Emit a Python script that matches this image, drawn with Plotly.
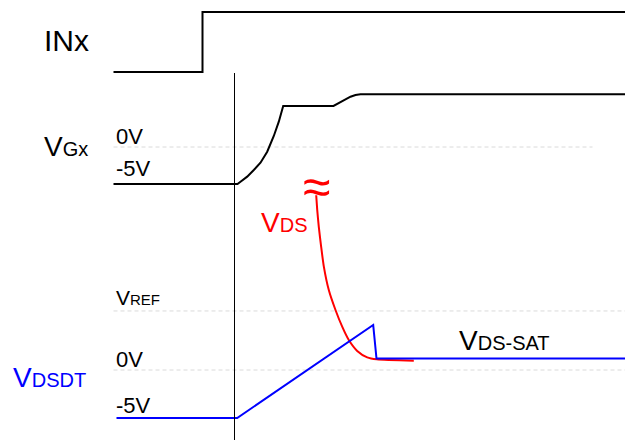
import plotly.graph_objects as go

# page body adds an 8px margin; figure is sized/shifted to compensate
OFF = 8
W, H = 633 - OFF, 440 - OFF

# ---------------- data (time in arbitrary units, 0 = reference edge) ----------------
inx_t = [-12.1, -3.2, -3.2, 40.5]
inx_v = [0, 0, 1, 1]

vgx_t = [-12.1, 0.3, 0.6, 1.27, 1.93, 2.6, 3.27, 3.93, 4.43, 4.87, 9.9, 10.6, 11.1, 11.6, 12.1, 12.6, 40.5]
vgx_v = [-5, -5, -4.69, -4.01, -3.11, -2.12, -0.64, 1.49, 3.42, 5.54, 5.54, 5.99, 6.42, 6.8, 7.03, 7.12, 7.12]

vdsdt_t = [-11.8, 0.27, 13.87, 14.2, 40.5]
vdsdt_v = [-5, -5, 4.69, 1.2, 1.2]

vds_t = [8.17, 8.27, 8.43, 8.67, 8.93, 9.43, 10.1, 10.77, 11.43, 12.27, 13.27, 14.23, 17.93]
vds_v = [18.2, 16.7, 14.9, 12.8, 10.8, 8.33, 6.25, 4.51, 3.12, 1.99, 1.32, 1.11, 0.97]

vref = 6.15
grid_start = -12.1
vgx_grid_end = 35.8
vdsdt_grid_end = 40.5

# ---------------- layout helpers ----------------
FONT = "Arial, Liberation Sans, sans-serif"


def t_of_px(px):
    return (px - 234.5) / 10.0


def yrange(v1, p1, v2, p2):
    p1 -= OFF
    p2 -= OFF
    s = (p2 - p1) / (v1 - v2)  # pixels per unit (downwards)
    top = v1 + p1 / s
    bottom = v1 - (H - p1) / s
    return [bottom, top]


fig = go.Figure()

line_black = dict(color="black", width=2)
grid = dict(color="#dadada", width=1, dash="4px,3px")

# gridlines
fig.add_trace(go.Scatter(x=[grid_start, vgx_grid_end], y=[0, 0], yaxis="y2", mode="lines", line=grid))
fig.add_trace(go.Scatter(x=[grid_start, vdsdt_grid_end], y=[vref, vref], yaxis="y3", mode="lines", line=grid))
fig.add_trace(go.Scatter(x=[grid_start, vdsdt_grid_end], y=[0, 0], yaxis="y3", mode="lines", line=grid))

# signals
fig.add_trace(go.Scatter(x=inx_t, y=inx_v, yaxis="y", mode="lines", line=line_black))
fig.add_trace(go.Scatter(x=vgx_t, y=vgx_v, yaxis="y2", mode="lines", line=line_black))
fig.add_trace(go.Scatter(x=vds_t, y=vds_v, yaxis="y3", mode="lines",
                         line=dict(color="red", width=2, shape="spline", smoothing=0.6)))
fig.add_trace(go.Scatter(x=vdsdt_t, y=vdsdt_v, yaxis="y3", mode="lines", line=dict(color="#0000ff", width=2)))

# reference vertical line at t = 0
fig.add_shape(type="line", xref="x", yref="paper", x0=0, x1=0, y0=0, y1=1 - (73 - OFF) / H,
              line=dict(color="black", width=1))


def label(px, py, text, size, color="black"):
    fig.add_annotation(x=(px - OFF) / W, y=1 - (py - OFF) / H, xref="paper", yref="paper", text=text,
                       showarrow=False, xanchor="left", yanchor="middle",
                       font=dict(family=FONT, size=size, color=color))


def sub(big, small, s):
    return f"{big}<span style='font-size:{s}px'>{small}</span>"


label(42, 40, "INx", 30)
label(42, 146, sub("V", "Gx", 20), 28)
label(114, 136, "0V", 22)
label(114, 169, "-5V", 22)
label(114, 297, sub("V", "REF", 15), 21)
label(114, 359, "0V", 22)
label(114, 405, "-5V", 22)
label(11, 377, sub("V", "DSDT", 20), 28, "#0000ff")
label(259, 222, sub("V", "DS", 20), 28, "red")
label(457, 340, sub("V", "DS-SAT", 20), 28)
label(301, 187, "≈", 50, "red")

fig.update_layout(
    width=W, height=H,
    margin=dict(l=0, r=0, t=0, b=0),
    paper_bgcolor="white", plot_bgcolor="white",
    showlegend=False,
    xaxis=dict(visible=False, range=[t_of_px(OFF), t_of_px(633)]),
    yaxis=dict(visible=False, range=yrange(0, 72, 1, 12)),
    yaxis2=dict(visible=False, overlaying="y", range=yrange(-5, 184, 0, 147)),
    yaxis3=dict(visible=False, overlaying="y", range=yrange(-5, 418, 0, 370)),
)

fig.write_html("out.html")
